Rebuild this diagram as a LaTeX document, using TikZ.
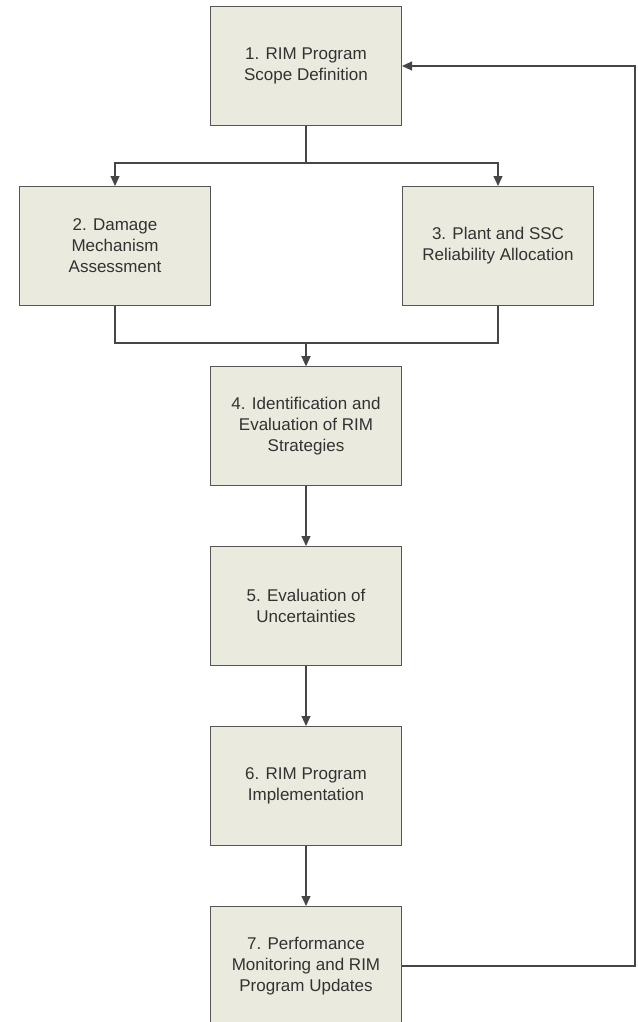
\documentclass[tikz,border=0pt]{standalone}
\usepackage{xcolor}
\usepackage{fontspec}
\setmainfont{Liberation Sans}
\usetikzlibrary{positioning, arrows.meta}

\definecolor{boxfill}{RGB}{234,234,222}
\definecolor{boxline}{RGB}{85,85,85}
\definecolor{linkline}{RGB}{70,70,70}
\definecolor{boxtext}{RGB}{50,50,50}

\begin{document}
\begin{tikzpicture}[x=1pt, y=-1pt, node distance=60pt,
    stage/.style={rectangle, draw=boxline, line width=1.3pt, fill=boxfill,
        minimum width=190.7pt, minimum height=118.7pt, align=center,
        text=boxtext, font=\fontsize{17}{21}\selectfont},
    link/.style={draw=linkline, line width=1.1pt, -{Triangle[length=10pt,width=9pt]}}]
    \useasboundingbox (0,0) rectangle (637,1022);

    \node[stage] (scope) at (306,66) {1. RIM Program\\Scope Definition};
    \node[stage, below=of scope, xshift=-191pt] (damage) {2. Damage\\Mechanism\\Assessment};
    \node[stage, below=of scope, xshift=192pt] (reliab) {3. Plant and SSC\\Reliability Allocation};
    \node[stage, below=of damage, xshift=191pt] (strat) {4. Identification and\\Evaluation of RIM\\Strategies};
    \node[stage, below=of strat] (uncert) {5. Evaluation of\\Uncertainties};
    \node[stage, below=of uncert] (impl) {6. RIM Program\\Implementation};
    \node[stage, below=of impl] (update) {7. Performance\\Monitoring and RIM\\Program Updates};

    \draw[link] (scope.south) -- ++(0,37) -| (damage.north);
    \draw[link] (scope.south) -- ++(0,37) -| (reliab.north);
    \draw[link] (damage.south) -- ++(0,37) -| (strat.north);
    \draw[link] (reliab.south) -- ++(0,37) -| (strat.north);
    \draw[link] (strat) -- (uncert);
    \draw[link] (uncert) -- (impl);
    \draw[link] (impl) -- (update);
    % feedback loop
    \draw[link] (update.east) -- ++(233,0) |- (scope.east);
\end{tikzpicture}
\end{document}
